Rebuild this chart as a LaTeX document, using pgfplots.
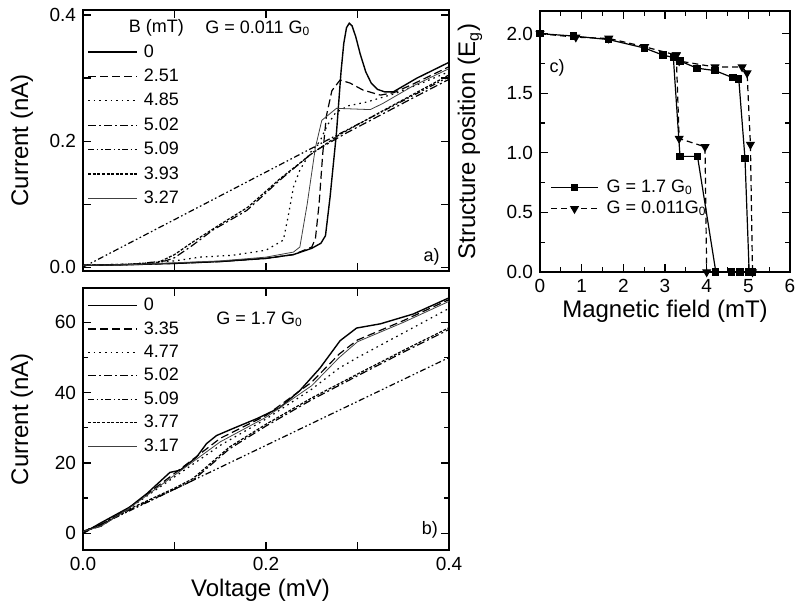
\documentclass[border=0pt]{standalone}
\usepackage{fontspec}
\setmainfont{Liberation Sans}
\usepackage{pgfplots}
\pgfplotsset{compat=1.18}
\pgfplotsset{
  panel/.style={scale only axis, anchor=south west,
    axis line style={line width=0.8pt},
    every tick/.style={line width=0.6pt, black},
    tick align=inside, major tick length=4pt, minor tick length=2.5pt,
    tick label style={font=\fontsize{9.5}{11}\selectfont},
    /pgf/number format/assume math mode=true,
    label style={font=\fontsize{12}{14}\selectfont},
    every axis plot/.append style={line width=0.6pt, black},
  },
  curvelegend/.style={
    legend style={draw=none, fill=none, inner sep=0pt, at={(0.011,0.98)}, anchor=north west,
      font=\fontsize{9}{10}\selectfont,
      cells={inner sep=0pt, text height=6.5pt, text depth=1.5pt},
      row sep=0.2pt, column sep=1pt},
    legend cell align=left,
  },
  s0/.style={solid, line width=0.7pt},
  s1/.style={dash pattern=on 4pt off 2pt},
  s2/.style={dash pattern=on 0.8pt off 2pt},
  s3/.style={dash pattern=on 4pt off 1.5pt on 1pt off 1.5pt},
  s4/.style={dash pattern=on 3pt off 1.3pt on 0.8pt off 1.3pt on 0.8pt off 1.3pt},
  s5/.style={dash pattern=on 1.5pt off 0.8pt},
  s6/.style={solid, line width=0.4pt, black!75},
}
\begin{document}
\begin{tikzpicture}
\useasboundingbox (0,0) rectangle (397.5pt,305pt);
% ---------------- panel a ----------------
\begin{axis}[panel, curvelegend, at={(41.5pt,169.5pt)}, width=183pt, height=130.5pt,
  legend image code/.code={\draw[#1] (0pt,0pt) -- (24.5pt,0pt);},
  xmin=0, xmax=0.4, ymin=-0.006, ymax=0.408,
  xtick={0,0.1,0.2,0.3,0.4}, xticklabels={},
  ytick={0,0.1,0.2,0.3,0.4}, yticklabels={0.0,,0.2,,0.4},
  ylabel={Current (nA)},
  ylabel style={at={(axis description cs:-0.167,0.5)}, anchor=center}]
\addlegendimage{empty legend}
\addlegendentry{\hspace*{-7.5pt}B (mT)}
\addplot[s0] coordinates {(0,0.003) (0.05,0.004) (0.1,0.006) (0.15,0.009) (0.2,0.014) (0.23,0.02) (0.25,0.03) (0.26,0.038) (0.265,0.05) (0.27,0.111) (0.277,0.213) (0.282,0.31) (0.285,0.355) (0.288,0.38) (0.291,0.387) (0.294,0.383) (0.298,0.366) (0.303,0.338) (0.309,0.31) (0.315,0.292) (0.322,0.282) (0.33,0.278) (0.339,0.278) (0.365,0.3) (0.4,0.325)};
\addlegendentry{0}
\addplot[s1] coordinates {(0,0.003) (0.05,0.004) (0.1,0.006) (0.15,0.009) (0.2,0.014) (0.23,0.02) (0.25,0.032) (0.254,0.045) (0.258,0.1) (0.262,0.18) (0.266,0.24) (0.272,0.28) (0.281,0.297) (0.292,0.292) (0.306,0.281) (0.325,0.273) (0.34,0.277) (0.36,0.29) (0.4,0.318)};
\addlegendentry{2.51}
\addplot[s2] coordinates {(0,0.003) (0.05,0.005) (0.1,0.01) (0.128,0.016) (0.164,0.019) (0.2,0.027) (0.219,0.043) (0.224,0.079) (0.23,0.127) (0.237,0.154) (0.248,0.181) (0.259,0.2) (0.267,0.225) (0.276,0.245) (0.29,0.256) (0.31,0.262) (0.34,0.275) (0.37,0.292) (0.4,0.31)};
\addlegendentry{4.85}
\addplot[s3] coordinates {(0,0.003) (0.05,0.004) (0.09,0.01) (0.1,0.015) (0.12,0.035) (0.142,0.059) (0.179,0.09) (0.215,0.138) (0.252,0.183) (0.288,0.213) (0.33,0.245) (0.36,0.268) (0.4,0.298)};
\addlegendentry{5.02}
\addplot[s4] coordinates {(0,0) (0.2,0.151) (0.4,0.302)};
\addlegendentry{5.09}
\addplot[s5] coordinates {(0,0.003) (0.08,0.006) (0.1,0.02) (0.12,0.04) (0.15,0.068) (0.18,0.095) (0.215,0.14) (0.25,0.18) (0.28,0.21) (0.33,0.25) (0.4,0.305)};
\addlegendentry{3.93}
\addplot[s6] coordinates {(0,0.003) (0.05,0.004) (0.1,0.007) (0.15,0.01) (0.2,0.016) (0.23,0.024) (0.237,0.032) (0.245,0.1) (0.254,0.19) (0.261,0.233) (0.277,0.252) (0.314,0.25) (0.328,0.26) (0.36,0.287) (0.4,0.315)};
\addlegendentry{3.27}
\node[font=\fontsize{9}{10}\selectfont] at (axis cs:0.191,0.379) {G = 0.011 G\textsubscript{0}};
\node[font=\fontsize{9}{10}\selectfont] at (axis cs:0.381,0.016) {a)};
\end{axis}
% ---------------- panel b ----------------
\begin{axis}[panel, curvelegend, at={(41.5pt,30pt)}, width=183pt, height=131pt,
  legend image code/.code={\draw[#1] (0pt,0pt) -- (24.5pt,0pt);},
  legend style={row sep=-0.3pt},
  xmin=0, xmax=0.4, ymin=-4.8, ymax=69.8,
  xtick={0,0.1,0.2,0.3,0.4}, xticklabels={0.0,,0.2,,0.4},
  ytick={0,20,40,60}, minor ytick={10,30,50},
  ylabel={Current (nA)}, xlabel={Voltage (mV)},
  ylabel style={at={(axis description cs:-0.167,0.5)}, anchor=center},
  xlabel style={at={(axis description cs:0.485,-0.153)}, anchor=center}]
\addplot[s0] coordinates {(0,0) (0.01,1.5) (0.0186,2.8) (0.051,7.4) (0.07,11.3) (0.095,17.3) (0.106,17.9) (0.124,21.6) (0.135,25.5) (0.146,27.8) (0.164,29.8) (0.19,32.6) (0.215,35.7) (0.237,40.6) (0.259,47) (0.281,54.8) (0.299,58.4) (0.325,59.6) (0.361,62.4) (0.4,67)};
\addlegendentry{0}
\addplot[s1] coordinates {(0,0.5) (0.02,2) (0.05,7.2) (0.1,17) (0.15,27) (0.2,33.5) (0.25,43) (0.28,51) (0.3,55) (0.35,60.5) (0.4,66.5)};
\addlegendentry{3.35}
\addplot[s2] coordinates {(0,0.5) (0.02,2.5) (0.05,7) (0.1,16) (0.15,25) (0.2,32.5) (0.25,41) (0.28,47) (0.3,50) (0.35,57) (0.4,64)};
\addlegendentry{4.77}
\addplot[s3] coordinates {(0,0.5) (0.02,2.5) (0.05,6.5) (0.1,12.5) (0.12,15) (0.16,24) (0.2,30.5) (0.25,38) (0.3,44.8) (0.35,51.5) (0.4,58)};
\addlegendentry{5.02}
\addplot[s4] coordinates {(0,0) (0.2,25) (0.4,50)};
\addlegendentry{5.09}
\addplot[s5] coordinates {(0,0.5) (0.02,2.5) (0.05,6.8) (0.1,12.8) (0.12,15.5) (0.16,24.5) (0.2,31) (0.25,38.5) (0.3,45.3) (0.35,52) (0.4,58.5)};
\addlegendentry{3.77}
\addplot[s6] coordinates {(0,0.5) (0.02,2) (0.05,7) (0.1,16.5) (0.15,26) (0.2,33) (0.25,42) (0.28,50) (0.3,54.5) (0.35,60) (0.4,66)};
\addlegendentry{3.17}
\node[font=\fontsize{9}{10}\selectfont] at (axis cs:0.193,61) {G = 1.7 G\textsubscript{0}};
\node[font=\fontsize{9}{10}\selectfont] at (axis cs:0.379,0.9) {b)};
\end{axis}
% ---------------- panel c ----------------
\begin{axis}[panel, at={(270pt,169pt)}, width=125pt, height=130.5pt,
  xmin=0, xmax=6, ymin=0, ymax=2.19,
  xtick={0,1,...,6}, minor xtick={0.5,1.5,...,5.5},
  ytick={0,0.5,1,1.5,2}, yticklabels={0.0,0.5,1.0,1.5,2.0}, minor ytick={0.25,0.75,1.25,1.75},
  xlabel={Magnetic field (mT)}, ylabel={Structure position (E\textsubscript{g})},
  ylabel style={at={(axis description cs:-0.28,0.5)}, anchor=center},
  xlabel style={at={(axis description cs:0.5,-0.15)}, anchor=center},
  unbounded coords=jump,
  legend style={draw=none, fill=none, inner sep=0pt, at={(0.04,0.195)}, anchor=south west,
    font=\fontsize{9}{10}\selectfont,
    cells={inner sep=0pt, text height=6.5pt, text depth=1.5pt},
    row sep=-1.5pt, column sep=2pt},
  legend cell align=left,
  legend image code/.code={\draw[mark repeat=2,mark phase=2,#1] plot coordinates {(0pt,0pt) (11.75pt,0pt) (23.5pt,0pt)};}]
\addplot[solid, mark=square*, mark size=1.5pt, mark options={solid}] coordinates {
(0,2.0) (0.8,1.98) (1.65,1.95) (2.5,1.88) (2.95,1.82) (3.2,1.8) (3.36,0.97) (3.78,0.97) (4.22,0)
(nan,nan)
(3.2,1.8) (3.36,1.77) (3.77,1.71) (4.2,1.69) (4.63,1.63) (4.77,1.62) (4.92,0.95) (5.02,0)
(nan,nan)
(4.6,0) (4.8,0) (5.0,0) (5.09,0)};
\addlegendentry{G = 1.7 G\textsubscript{0}}
\addplot[dash pattern=on 3pt off 2pt, mark=triangle*, mark size=2.1pt, mark options={solid, rotate=180}] coordinates {
(0,2.0) (0.86,1.97) (1.65,1.96) (2.51,1.89) (3.27,1.82) (3.34,1.12) (3.96,1.05) (4.0,0)
(nan,nan)
(3.27,1.82) (3.34,1.77) (4.2,1.72) (4.85,1.72) (4.97,1.67) (5.05,1.07) (5.1,0)};
\addlegendentry{G = 0.011G\textsubscript{0}}
\node[font=\fontsize{9}{10}\selectfont] at (axis cs:0.41,1.71) {c)};
\end{axis}
\end{tikzpicture}
\end{document}
